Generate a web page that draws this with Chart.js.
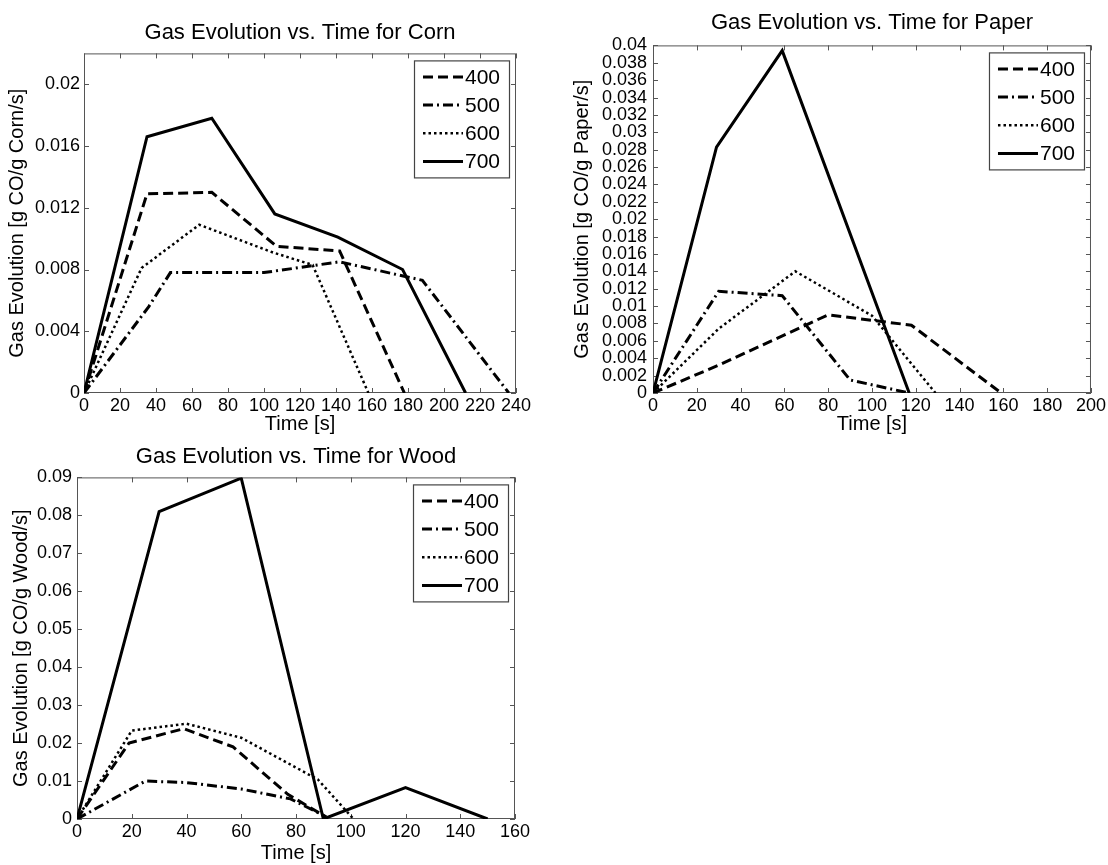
<!DOCTYPE html>
<html>
<head>
<meta charset="utf-8">
<script src="https://cdn.jsdelivr.net/npm/chart.js@4.4.1/dist/chart.umd.min.js"></script>
<style>
  body { margin: 0; background: #fff; width: 1108px; height: 865px; overflow: hidden; }
  canvas { position: absolute; }
</style>
</head>
<body>
<canvas id="corn" style="left:0;top:0"></canvas>
<canvas id="paper" style="left:555px;top:0"></canvas>
<canvas id="wood" style="left:0;top:440px"></canvas>
<script>
// legend labels (temperatures)
const seriesLabels = ['400', '500', '600', '700'];

// Corn
const cornT400 = [0, 35, 71, 107, 142, 178];
const cornV400 = [0, 0.0129, 0.0130, 0.0095, 0.0092, 0];
const cornT500 = [0, 36, 48, 100, 142, 188, 236];
const cornV500 = [0, 0.0056, 0.0078, 0.0078, 0.0085, 0.0073, 0];
const cornT600 = [0, 32, 64, 105, 127, 158];
const cornV600 = [0, 0.0081, 0.0109, 0.0091, 0.0083, 0];
const cornT700 = [0, 35, 71, 106, 141, 177, 212];
const cornV700 = [0, 0.0166, 0.0178, 0.0116, 0.0101, 0.0080, 0];
const cornXTicks = [0, 20, 40, 60, 80, 100, 120, 140, 160, 180, 200, 220, 240];
const cornYTicks = [0, 0.004, 0.008, 0.012, 0.016, 0.02];

// Paper
const paperT400 = [0, 30, 80, 118, 159];
const paperV400 = [0, 0.0032, 0.0090, 0.0078, 0];
const paperT500 = [0, 30, 59, 90, 117];
const paperV500 = [0, 0.0117, 0.0112, 0.0015, 0];
const paperT600 = [0, 30, 65, 100, 129];
const paperV600 = [0, 0.0074, 0.0140, 0.0089, 0];
const paperT700 = [0, 29, 59, 117];
const paperV700 = [0, 0.0283, 0.0394, 0];
const paperXTicks = [0, 20, 40, 60, 80, 100, 120, 140, 160, 180, 200];
const paperYTicks = [0, 0.002, 0.004, 0.006, 0.008, 0.01, 0.012, 0.014, 0.016, 0.018, 0.02,
                     0.022, 0.024, 0.026, 0.028, 0.03, 0.032, 0.034, 0.036, 0.038, 0.04];

// Wood
const woodT400 = [0, 19, 39, 57, 77, 91];
const woodV400 = [0, 0.0200, 0.0238, 0.0190, 0.0065, 0.0005];
const woodT500 = [0, 25, 40, 60, 78, 91];
const woodV500 = [0, 0.0100, 0.0096, 0.0079, 0.0053, 0.0006];
const woodT600 = [0, 20, 40, 60, 88, 101];
const woodV600 = [0, 0.0233, 0.0251, 0.0214, 0.0104, 0];
const woodT700 = [0, 30, 60, 90, 120, 150];
const woodV700 = [0, 0.0810, 0.0898, 0, 0.0083, 0];
const woodXTicks = [0, 20, 40, 60, 80, 100, 120, 140, 160];
const woodYTicks = [0, 0.01, 0.02, 0.03, 0.04, 0.05, 0.06, 0.07, 0.08, 0.09];

const FONT = '"Liberation Sans", Arial, Helvetica, sans-serif';

// line styles for 400 / 500 / 600 / 700
const lineStyles = [
    { dash: [10, 5], width: 3 },
    { dash: [10, 4, 2, 4], width: 3 },
    { dash: [2.5, 3], width: 2.5 },
    { dash: [], width: 3 }
];

function pts(t, v) {
    return t.map((x, i) => ({ x: x, y: v[i] }));
}

// matlab style box with inward ticks on all four sides
const boxFrame = {
    id: 'boxFrame',
    beforeDatasetsDraw(chart) {
        const { ctx, chartArea: a, scales } = chart;
        const len = 5;
        ctx.save();
        ctx.strokeStyle = '#555';
        ctx.lineWidth = 1;
        ctx.strokeRect(a.left + 0.5, a.top + 0.5, a.right - a.left - 1, a.bottom - a.top - 1);
        ctx.beginPath();
        scales.x.ticks.forEach(t => {
            const px = Math.round(scales.x.getPixelForValue(t.value)) + 0.5;
            ctx.moveTo(px, a.bottom); ctx.lineTo(px, a.bottom - len);
            ctx.moveTo(px, a.top); ctx.lineTo(px, a.top + len);
        });
        scales.y.ticks.forEach(t => {
            const py = Math.round(scales.y.getPixelForValue(t.value)) + 0.5;
            ctx.moveTo(a.left, py); ctx.lineTo(a.left + len, py);
            ctx.moveTo(a.right, py); ctx.lineTo(a.right - len, py);
        });
        ctx.stroke();
        ctx.restore();
    }
};

// legend box in the upper right corner of the plot
const boxLegend = {
    id: 'boxLegend',
    afterDraw(chart) {
        const { ctx, chartArea: a } = chart;
        const w = 95, h = 117;
        const left = a.right - 7 - w, top = a.top + 7;
        ctx.save();
        ctx.fillStyle = '#fff';
        ctx.fillRect(left, top, w, h);
        ctx.strokeStyle = '#444';
        ctx.lineWidth = 1.2;
        ctx.strokeRect(left + 0.5, top + 0.5, w, h);
        chart.data.datasets.forEach((ds, i) => {
            const y = top + 16.5 + i * 28.2;
            ctx.beginPath();
            ctx.setLineDash(ds.borderDash || []);
            ctx.lineWidth = ds.borderWidth;
            ctx.strokeStyle = ds.borderColor;
            ctx.moveTo(left + 9, y);
            ctx.lineTo(left + 49, y);
            ctx.stroke();
            ctx.setLineDash([]);
            ctx.fillStyle = '#000';
            ctx.font = '21px ' + FONT;
            ctx.textBaseline = 'middle';
            ctx.fillText(ds.label, left + 51, y + 1);
        });
        ctx.restore();
    }
};

function makeChart(id, opt) {
    const canvas = document.getElementById(id);
    canvas.width = opt.width;
    canvas.height = opt.height;
    canvas.style.width = opt.width + 'px';
    canvas.style.height = opt.height + 'px';

    const datasets = opt.series.map((s, i) => ({
        label: seriesLabels[i],
        data: pts(s[0], s[1]),
        borderColor: '#000',
        borderWidth: lineStyles[i].width,
        borderDash: lineStyles[i].dash,
        pointRadius: 0,
        tension: 0,
        fill: false
    }));

    return new Chart(canvas, {
        type: 'line',
        data: { datasets: datasets },
        options: {
            responsive: false,
            animation: false,
            devicePixelRatio: 1,
            layout: { padding: { left: 0, right: opt.padRight, top: 0, bottom: 0 } },
            plugins: {
                legend: { display: false },
                tooltip: { enabled: false },
                title: {
                    display: true,
                    fullSize: false,
                    text: opt.title,
                    color: '#000',
                    font: { family: FONT, size: 22, weight: 'normal', lineHeight: 1.2 },
                    padding: opt.titlePad
                }
            },
            scales: {
                x: {
                    type: 'linear',
                    min: opt.xTicks[0],
                    max: opt.xTicks[opt.xTicks.length - 1],
                    afterBuildTicks: s => { s.ticks = opt.xTicks.map(v => ({ value: v })); },
                    afterFit: s => { s.height = opt.xHeight; },
                    grid: { display: false, drawTicks: false },
                    border: { display: false },
                    ticks: {
                        autoSkip: false, maxRotation: 0, padding: 2, color: '#000',
                        font: { family: FONT, size: 18 },
                        callback: v => String(v)
                    },
                    title: {
                        display: true, text: 'Time [s]', color: '#000',
                        font: { family: FONT, size: 20 },
                        padding: { top: 0, bottom: opt.xTitlePad }
                    }
                },
                y: {
                    type: 'linear',
                    min: 0,
                    max: opt.yMax,
                    afterBuildTicks: s => { s.ticks = opt.yTicks.map(v => ({ value: v })); },
                    afterFit: s => { s.width = opt.yWidth; },
                    grid: { display: false, drawTicks: false },
                    border: { display: false },
                    ticks: {
                        autoSkip: false, padding: opt.yTickPad, color: '#000',
                        font: { family: FONT, size: 18 },
                        callback: v => String(v)
                    },
                    title: {
                        display: true, text: opt.yTitle, color: '#000',
                        font: { family: FONT, size: 20 },
                        padding: { top: opt.yTitlePad, bottom: 0 }
                    }
                }
            }
        },
        plugins: [boxFrame, boxLegend]
    });
}

makeChart('corn', {
    width: 545, height: 440, padRight: 29,
    title: 'Gas Evolution vs. Time for Corn',
    titlePad: { top: 20, bottom: 7 },
    xTicks: cornXTicks, yTicks: cornYTicks, yMax: 0.022,
    xHeight: 47, yWidth: 84, yTickPad: 4, xTitlePad: 4, yTitlePad: 5,
    yTitle: 'Gas Evolution [g CO/g Corn/s]',
    series: [[cornT400, cornV400], [cornT500, cornV500], [cornT600, cornV600], [cornT700, cornV700]]
});

makeChart('paper', {
    width: 553, height: 440, padRight: 16,
    title: 'Gas Evolution vs. Time for Paper',
    titlePad: { top: 10, bottom: 9 },
    xTicks: paperXTicks, yTicks: paperYTicks, yMax: 0.04,
    xHeight: 47, yWidth: 98, yTickPad: 6, xTitlePad: 4, yTitlePad: 15,
    yTitle: 'Gas Evolution [g CO/g Paper/s]',
    series: [[paperT400, paperV400], [paperT500, paperV500], [paperT600, paperV600], [paperT700, paperV700]]
});

makeChart('wood', {
    width: 545, height: 425, padRight: 30,
    title: 'Gas Evolution vs. Time for Wood',
    titlePad: { top: 4, bottom: 7 },
    xTicks: woodXTicks, yTicks: woodYTicks, yMax: 0.09,
    xHeight: 46, yWidth: 77, yTickPad: 5, xTitlePad: 0, yTitlePad: 9,
    yTitle: 'Gas Evolution [g CO/g Wood/s]',
    series: [[woodT400, woodV400], [woodT500, woodV500], [woodT600, woodV600], [woodT700, woodV700]]
});
</script>
</body>
</html>
